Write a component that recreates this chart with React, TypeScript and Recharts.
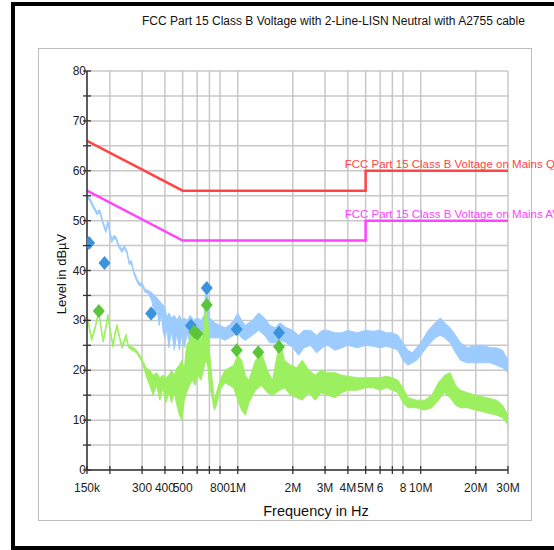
import React from "react";
import { ComposedChart, Area, Line, XAxis, YAxis, CartesianGrid } from "recharts";

// frequencies in MHz, levels in dBµV
const PEAK_FREQ = [0.15, 0.156, 0.163, 0.17, 0.176, 0.183, 0.19, 0.195, 0.2, 0.205, 0.21, 0.216, 0.224, 0.233, 0.24, 0.248, 0.255, 0.262, 0.27, 0.28, 0.29, 0.3, 0.312, 0.325, 0.34, 0.352, 0.362, 0.372, 0.382, 0.392, 0.4, 0.41, 0.42, 0.435, 0.45, 0.465, 0.48, 0.495, 0.51, 0.53, 0.55, 0.575, 0.6, 0.63, 0.655, 0.668, 0.685, 0.7, 0.75, 0.8, 0.85, 0.9, 0.95, 1.0, 1.05, 1.1, 1.2, 1.3, 1.4, 1.5, 1.6, 1.7, 1.85, 2.0, 2.15, 2.3, 2.5, 2.7, 2.9, 3.1, 3.4, 3.7, 4.0, 4.5, 5.0, 5.5, 6.0, 6.5, 7.0, 7.5, 8.0, 8.5, 9.0, 9.5, 10, 11, 12, 12.8, 13.5, 14.5, 15.5, 16.5, 18, 20, 22, 24, 26, 28, 30];
const PEAK_LO = [54.8, 53.8, 52.4, 51.2, 51.6, 49.4, 47.6, 49.4, 47.4, 45.6, 46.4, 46.2, 44.6, 43.6, 44.4, 43.4, 41.2, 41.4, 39.4, 37.9, 36.9, 36.9, 35.6, 35.4, 33.8, 30.5, 32.5, 29.0, 31.5, 27.5, 26.5, 28.5, 24.5, 28.0, 24.0, 27.5, 24.0, 27.5, 24.5, 27.5, 25.0, 27.0, 25.5, 27.0, 27.5, 29.0, 28.0, 26.5, 26.5, 26.5, 26.0, 26.5, 27.0, 27.5, 26.5, 26.0, 27.0, 28.0, 27.0, 25.5, 25.5, 26.0, 25.5, 24.5, 23.0, 24.5, 25.0, 23.5, 24.5, 25.0, 24.0, 24.5, 25.0, 24.5, 25.0, 24.8, 24.5, 24.8, 24.5, 24.0, 22.0, 21.0, 21.5, 22.0, 23.0, 25.0, 26.5, 27.0, 26.5, 25.5, 23.5, 22.0, 21.5, 21.5, 21.5, 21.5, 21.0, 20.5, 19.5];
const PEAK_HI = [55.4, 54.4, 53.0, 51.8, 52.2, 50.0, 48.2, 50.0, 48.0, 46.2, 47.0, 46.8, 45.2, 44.2, 45.0, 44.0, 41.8, 42.0, 40.0, 38.5, 37.5, 37.5, 36.2, 36.0, 35.5, 35.0, 34.5, 34.0, 33.5, 33.0, 32.5, 30.5, 31.5, 30.5, 31.0, 30.0, 31.0, 30.0, 30.5, 30.0, 31.0, 30.0, 30.5, 30.0, 31.0, 36.5, 35.5, 30.5, 29.5, 29.0, 28.5, 29.0, 30.0, 31.5, 30.0, 29.0, 30.0, 31.5, 30.5, 29.0, 28.5, 29.5, 28.5, 28.0, 27.0, 28.0, 28.0, 27.0, 28.0, 28.0, 27.5, 27.5, 28.0, 27.5, 28.0, 27.8, 28.0, 27.5, 27.5, 27.0, 25.5, 24.0, 23.5, 24.5, 25.5, 28.0, 29.5, 30.5, 29.5, 28.5, 27.0, 25.5, 24.5, 25.0, 25.0, 24.5, 24.5, 24.0, 22.0];

const AVG_FREQ = [0.15, 0.155, 0.159, 0.166, 0.174, 0.179, 0.184, 0.19, 0.195, 0.201, 0.208, 0.214, 0.219, 0.226, 0.233, 0.24, 0.245, 0.252, 0.26, 0.27, 0.28, 0.292, 0.302, 0.315, 0.33, 0.345, 0.36, 0.375, 0.39, 0.405, 0.42, 0.435, 0.45, 0.465, 0.48, 0.495, 0.51, 0.525, 0.545, 0.565, 0.585, 0.605, 0.63, 0.65, 0.668, 0.685, 0.7, 0.72, 0.745, 0.765, 0.8, 0.85, 0.9, 0.95, 1.0, 1.05, 1.1, 1.15, 1.25, 1.35, 1.45, 1.55, 1.7, 1.8, 1.95, 2.1, 2.25, 2.45, 2.65, 2.85, 3.1, 3.4, 3.7, 4.0, 4.5, 5.0, 5.5, 6.0, 6.5, 7.0, 7.5, 8.0, 8.5, 9.5, 10.5, 11.5, 12.5, 13.5, 14.5, 15.5, 16.5, 18, 20, 23, 26, 28, 30];
const AVG_LO = [30.9, 27.9, 25.9, 28.2, 31.4, 28.2, 25.6, 28.2, 30.6, 27.6, 24.6, 27.2, 28.6, 26.2, 24.4, 25.6, 26.6, 24.6, 24.2, 23.9, 23.4, 22.4, 21.4, 19.0, 17.0, 15.0, 17.0, 14.0, 16.5, 13.5, 15.5, 13.5, 15.5, 13.0, 11.0, 10.0, 14.0, 15.5, 17.0, 18.0, 17.0, 19.0, 18.0, 20.0, 22.0, 21.0, 17.0, 15.0, 12.0, 13.0, 16.0, 17.5, 17.0, 16.5, 14.0, 12.0, 11.0, 13.5, 16.0, 17.0, 15.5, 15.0, 16.0, 16.5, 15.0, 14.5, 14.0, 15.5, 14.0, 15.5, 15.0, 14.5, 15.5, 16.0, 16.0, 16.5, 16.5, 16.0, 16.5, 16.0, 15.5, 13.5, 12.5, 12.5, 12.0, 12.5, 14.0, 15.5, 14.5, 13.0, 12.5, 12.5, 12.0, 11.5, 11.0, 10.5, 9.0];
const AVG_HI = [31.5, 28.5, 26.5, 28.8, 32.0, 28.8, 26.2, 28.8, 31.2, 28.2, 25.2, 27.8, 29.2, 26.8, 25.0, 26.2, 27.2, 25.2, 24.8, 24.5, 24.0, 23.0, 22.0, 20.5, 20.0, 19.0, 19.5, 18.5, 19.0, 18.5, 19.0, 20.0, 19.0, 20.5, 21.0, 22.0, 20.0, 25.0, 26.0, 28.5, 27.5, 28.0, 26.0, 28.0, 33.0, 31.0, 24.0, 19.0, 14.0, 15.5, 18.0, 20.0, 20.5, 21.0, 23.0, 22.0, 19.0, 18.0, 22.0, 23.5, 20.0, 18.0, 26.0, 22.0, 21.0, 20.5, 22.0, 20.0, 19.0, 20.0, 19.5, 19.5, 19.0, 18.8, 18.5, 18.5, 18.5, 18.5, 18.8, 18.5, 18.0, 16.5, 14.5, 14.0, 14.0, 15.0, 17.5, 19.0, 19.5, 17.0, 16.0, 15.5, 15.0, 14.5, 14.0, 13.0, 11.0];

const LIMIT_FREQ = [0.15, 0.5, 5, 5, 30];
const QP_LIMIT = [66, 56, 56, 60, 60];
const AV_LIMIT = [56, 46, 46, 50, 50];

const PEAK_MARK_FREQ = [0.154, 0.187, 0.336, 0.555, 0.677, 0.987, 1.68];
const PEAK_MARK_LEVEL = [45.5, 41.5, 31.4, 28.9, 36.5, 28.2, 27.5];
const AVG_MARK_FREQ = [0.174, 0.578, 0.601, 0.677, 0.987, 1.295, 1.68];
const AVG_MARK_LEVEL = [31.9, 27.7, 27.3, 33.1, 24.0, 23.6, 24.7];

const X_TICKS = [0.15, 0.2, 0.3, 0.4, 0.5, 0.6, 0.7, 0.8, 1, 2, 3, 4, 5, 6, 7, 8, 10, 20, 30];
const X_LABELS: Record<number, string> = {
  0.15: "150k", 0.3: "300", 0.4: "400", 0.5: "500", 0.8: "800", 1: "1M",
  2: "2M", 3: "3M", 4: "4M", 5: "5M", 6: "6", 8: "8", 10: "10M", 20: "20M", 30: "30M",
};
const Y_TICKS = [0, 5, 10, 15, 20, 25, 30, 35, 40, 45, 50, 55, 60, 65, 70, 75, 80];

const peakData = PEAK_FREQ.map((f, i) => ({ f, lo: PEAK_LO[i], hi: PEAK_HI[i] }));
const avgData = AVG_FREQ.map((f, i) => ({ f, lo: AVG_LO[i], hi: AVG_HI[i] }));
const qpData = LIMIT_FREQ.map((f, i) => ({ f, v: QP_LIMIT[i] }));
const avData = LIMIT_FREQ.map((f, i) => ({ f, v: AV_LIMIT[i] }));
const peakMarks = PEAK_MARK_FREQ.map((f, i) => ({ f, v: PEAK_MARK_LEVEL[i] }));
const avgMarks = AVG_MARK_FREQ.map((f, i) => ({ f, v: AVG_MARK_LEVEL[i] }));

const FONT = '"Liberation Sans", Arial, sans-serif';

const YTick = (props: any) => {
  const { x, y, payload } = props;
  return (
    <g>
      <line x1={x - 4} x2={x + 4} y1={y} y2={y} stroke="#333" strokeWidth={1.3} />
      {payload.value % 10 === 0 && (
        <text x={x - 1} y={y + 4} textAnchor="end" fontSize={12} fill="#222">
          {payload.value}
        </text>
      )}
    </g>
  );
};

const XTick = (props: any) => {
  const { x, y, payload } = props;
  const label = X_LABELS[payload.value];
  return (
    <g>
      <line x1={x} x2={x} y1={y - 4} y2={y + 4} stroke="#333" strokeWidth={1.3} />
      {label && (
        <text x={x} y={y + 22} textAnchor="middle" fontSize={12} fill="#222">
          {label}
        </text>
      )}
    </g>
  );
};

const makeDiamond = (color: string) => (props: any) => {
  const { cx, cy, index } = props;
  if (cx == null || cy == null) return <g key={index} />;
  return (
    <polygon
      key={index}
      points={`${cx},${cy - 7} ${cx + 6},${cy} ${cx},${cy + 7} ${cx - 6},${cy}`}
      fill={color}
    />
  );
};

const makeLimitLabel = (text: string, color: string) => (props: any) => {
  const { x, y, index } = props;
  if (index !== 3) return null;
  return (
    <text x={x - 21} y={y - 3} fontSize={11.5} fill={color}>
      {text}
    </text>
  );
};

export default function App() {
  return (
    <div
      style={{
        position: "absolute", left: 0, top: 0, width: 554, height: 550,
        overflow: "hidden", background: "#fff", fontFamily: FONT,
      }}
    >
      <div style={{ position: "absolute", left: 11, top: 2, width: 620, height: 548, border: "4px solid #000", boxSizing: "border-box" }} />
      <div style={{ position: "absolute", left: 38, top: 48, width: 494, height: 473, border: "1px solid #bdbdbd", boxSizing: "border-box" }} />
      <div style={{ position: "absolute", left: 142, top: 14, fontSize: 12, lineHeight: "14px", color: "#111", whiteSpace: "nowrap" }}>
        FCC Part 15 Class B Voltage with 2-Line-LISN Neutral with A2755 cable
      </div>
      <div style={{ position: "absolute", left: 316, top: 511, transform: "translate(-50%, -50%)", fontSize: 14.5, color: "#111", whiteSpace: "nowrap" }}>
        Frequency in Hz
      </div>
      <div style={{ position: "absolute", left: 61, top: 274, transform: "translate(-50%, -50%) rotate(-90deg)", fontSize: 13, color: "#111", whiteSpace: "nowrap" }}>
        Level in dBµV
      </div>
      <div style={{ position: "absolute", left: 0, top: 0 }}>
        <ComposedChart width={554} height={550} margin={{ top: 71, right: 46, bottom: 40, left: 47 }}>
          <CartesianGrid stroke="#c8c8c8" strokeWidth={1.5} />
          <XAxis
            type="number" dataKey="f" scale="log" domain={[0.15, 30]} allowDataOverflow
            ticks={X_TICKS} interval={0} height={40} tickSize={0} tickMargin={0}
            tick={XTick} axisLine={{ stroke: "#333", strokeWidth: 1.5 }} tickLine={false}
          />
          <YAxis
            type="number" domain={[0, 80]} allowDataOverflow ticks={Y_TICKS} interval={0}
            width={40} tickSize={0} tickMargin={0} tick={YTick}
            axisLine={{ stroke: "#333", strokeWidth: 1.5 }} tickLine={false}
          />
          <Area
            data={peakData} dataKey={(d: any) => [d.lo, d.hi]} type="linear"
            stroke="#9ccbff" strokeWidth={1} fill="#9ccbff" fillOpacity={1}
            isAnimationActive={false} dot={false} activeDot={false}
          />
          <Area
            data={avgData} dataKey={(d: any) => [d.lo, d.hi]} type="linear"
            stroke="#9cf060" strokeWidth={1} fill="#9cf060" fillOpacity={1}
            isAnimationActive={false} dot={false} activeDot={false}
          />
          <Line
            data={qpData} dataKey="v" type="linear" stroke="#ff4545" strokeWidth={2.5}
            dot={false} activeDot={false} isAnimationActive={false}
            label={makeLimitLabel("FCC Part 15 Class B Voltage on Mains QP", "#ff4545")}
          />
          <Line
            data={avData} dataKey="v" type="linear" stroke="#ff44ff" strokeWidth={2.5}
            dot={false} activeDot={false} isAnimationActive={false}
            label={makeLimitLabel("FCC Part 15 Class B Voltage on Mains AV", "#ff44ff")}
          />
          <Line
            data={peakMarks} dataKey="v" stroke="none" dot={makeDiamond("#3b93dc")}
            activeDot={false} isAnimationActive={false}
          />
          <Line
            data={avgMarks} dataKey="v" stroke="none" dot={makeDiamond("#5cc43a")}
            activeDot={false} isAnimationActive={false}
          />
        </ComposedChart>
      </div>
    </div>
  );
}
